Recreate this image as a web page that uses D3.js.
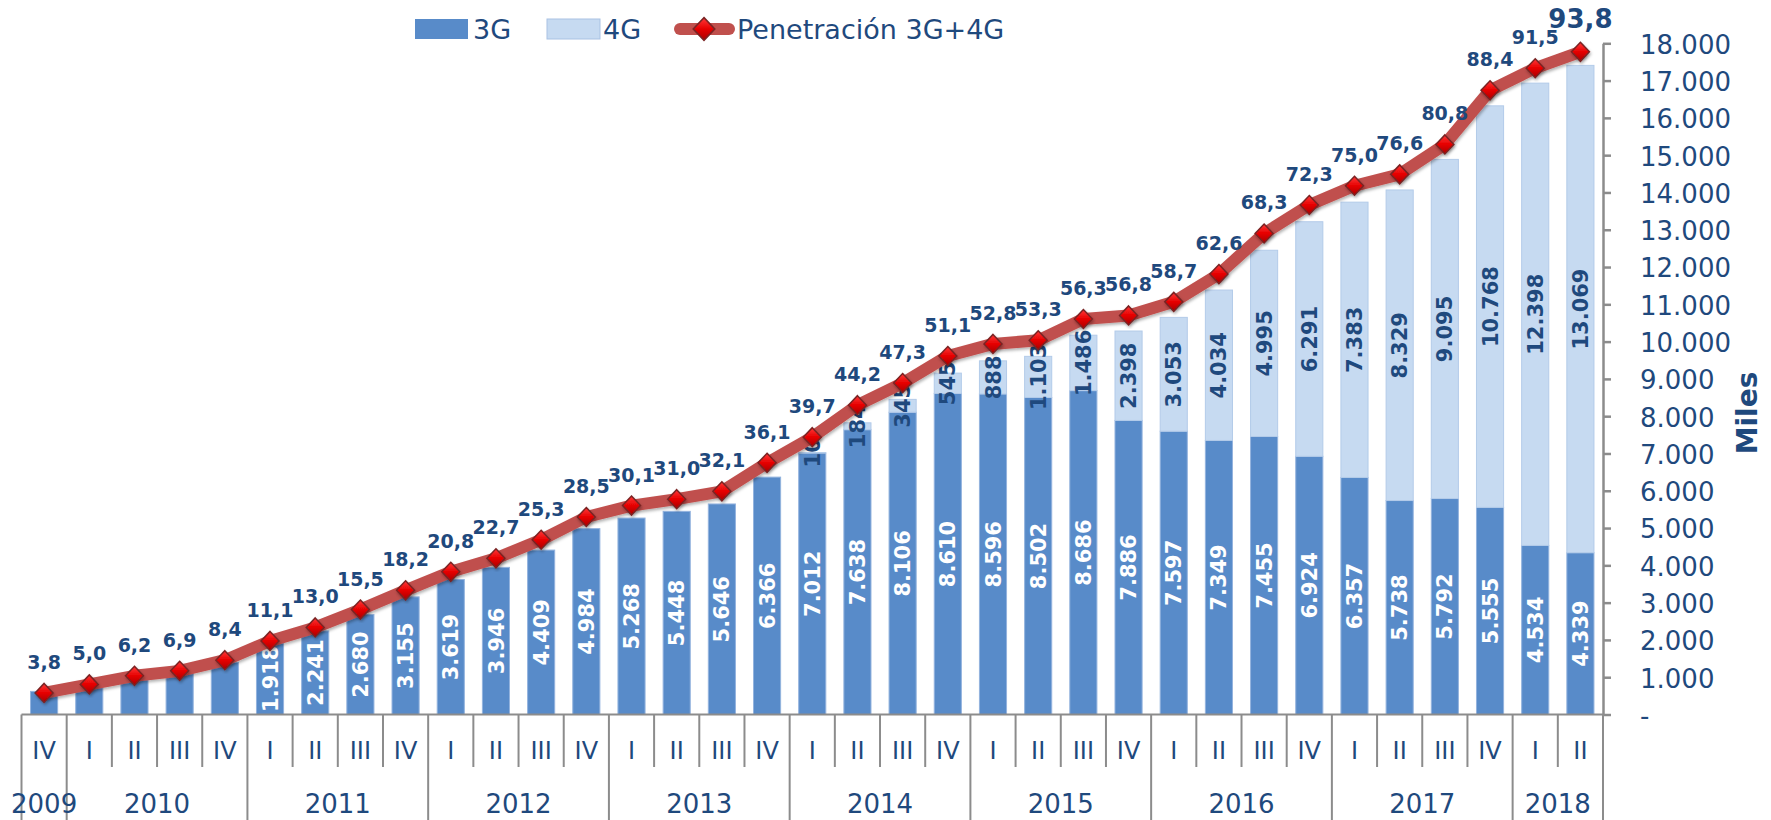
<!DOCTYPE html>
<html><head><meta charset="utf-8">
<script src="https://cdn.jsdelivr.net/npm/d3@7"></script>
<style>
body{margin:0;background:#fff;}
text{font-family:"DejaVu Sans",Verdana,sans-serif;}
</style>
</head><body>
<svg id="c" width="1771" height="820"></svg>
<script>
// ---------- DATA ----------
const years = ["2009",
  "2010","2010","2010","2010",
  "2011","2011","2011","2011",
  "2012","2012","2012","2012",
  "2013","2013","2013","2013",
  "2014","2014","2014","2014",
  "2015","2015","2015","2015",
  "2016","2016","2016","2016",
  "2017","2017","2017","2017",
  "2018","2018"];
const quarters = ["IV",
  "I","II","III","IV", "I","II","III","IV", "I","II","III","IV",
  "I","II","III","IV", "I","II","III","IV", "I","II","III","IV",
  "I","II","III","IV", "I","II","III","IV", "I","II"];
const g3 = [620, 800, 990, 1110, 1400,
  1918, 2241, 2680, 3155,
  3619, 3946, 4409, 4984,
  5268, 5448, 5646, 6366,
  7012, 7638, 8106, 8610,
  8596, 8502, 8686, 7886,
  7597, 7349, 7455, 6924,
  6357, 5738, 5792, 5555,
  4534, 4339];
const g4 = [0, 0, 0, 0, 0,
  0, 0, 0, 0,
  0, 0, 0, 0,
  0, 0, 0, 0,
  10, 184, 345, 545,
  888, 1103, 1486, 2398,
  3053, 4034, 4995, 6291,
  7383, 8329, 9095, 10768,
  12398, 13069];
const penetration = [3.8,
  5.0, 6.2, 6.9, 8.4,
  11.1, 13.0, 15.5, 18.2,
  20.8, 22.7, 25.3, 28.5,
  30.1, 31.0, 32.1, 36.1,
  39.7, 44.2, 47.3, 51.1,
  52.8, 53.3, 56.3, 56.8,
  58.7, 62.6, 68.3, 72.3,
  75.0, 76.6, 80.8, 88.4,
  91.5, 93.8];
const yTicks = d3.range(0, 18001, 1000);
const legendLabels = ["3G", "4G", "Penetración 3G+4G"];
const axisTitle = "Miles";

// ---------- SETUP ----------
const svg = d3.select("#c");
const txtBlue = "#1F497D";
const c3G = "#588BC9", c4G = "#C6DAF1", cLine = "#C0504D", axisGray = "#8C8C8C";
const loc = d3.formatLocale({decimal: ",", thousands: ".", grouping: [3], currency: ["", "€"]});
const fInt = loc.format(",d"), f1 = loc.format(",.1f");

const cats = years.map((yy, i) => yy + " " + quarters[i]);
const rows = cats.map((c, i) => ({c, year: years[i], q: quarters[i], g3: g3[i], g4: g4[i], p: penetration[i]}));

const x = d3.scaleBand().domain(cats).range([21.5, 1603]).paddingInner(0.4).paddingOuter(0.2);
const bw = x.bandwidth();
const y = d3.scaleLinear().domain([0, 18000]).range([714.5, 43.3]);
const yP = d3.scaleLinear().domain([0, 95]).range([720, 43.3]);
const y0 = y(0);

// defs
const defs = svg.append("defs");
const grad = defs.append("linearGradient").attr("id", "mk").attr("x1", 0).attr("y1", 0).attr("x2", 0).attr("y2", 1);
grad.append("stop").attr("offset", "0%").attr("stop-color", "#ff3a3a");
grad.append("stop").attr("offset", "50%").attr("stop-color", "#e60000");
grad.append("stop").attr("offset", "100%").attr("stop-color", "#a80000");
const sh = defs.append("filter").attr("id", "sh").attr("x", "-20%").attr("y", "-20%").attr("width", "140%").attr("height", "140%");
sh.append("feDropShadow").attr("dx", 1).attr("dy", 2).attr("stdDeviation", 1.5).attr("flood-color", "#000").attr("flood-opacity", 0.3);

// ---------- BARS ----------
const gBars = svg.append("g");
gBars.selectAll("rect.b3").data(rows).join("rect").attr("class", "b3")
  .attr("x", d => x(d.c)).attr("width", bw)
  .attr("y", d => y(d.g3)).attr("height", d => y0 - y(d.g3))
  .attr("fill", c3G).attr("stroke", "#93B3DE").attr("stroke-width", 1);
gBars.selectAll("rect.b4").data(rows.filter(d => d.g4 > 0)).join("rect").attr("class", "b4")
  .attr("x", d => x(d.c)).attr("width", bw)
  .attr("y", d => y(d.g3 + d.g4)).attr("height", d => y(d.g3) - y(d.g3 + d.g4))
  .attr("fill", c4G).attr("stroke", "#B3CBE9").attr("stroke-width", 1);

// bar labels
const gBL = svg.append("g").attr("font-weight", "bold").attr("font-size", 21).attr("text-anchor", "middle");
gBL.selectAll("text.l3").data(rows.filter(d => y0 - y(d.g3) > 60)).join("text").attr("class", "l3")
  .attr("transform", d => `translate(${x(d.c) + bw / 2},${(y0 + y(d.g3)) / 2}) rotate(-90)`)
  .attr("dy", "0.36em").attr("fill", "#fff").text(d => fInt(d.g3));
gBL.selectAll("text.l4").data(rows.filter(d => d.g4 > 0)).join("text").attr("class", "l4")
  .attr("transform", d => `translate(${x(d.c) + bw / 2},${(y(d.g3) + y(d.g3 + d.g4)) / 2}) rotate(-90)`)
  .attr("dy", "0.36em").attr("fill", txtBlue).text(d => fInt(d.g4));

// ---------- X AXIS (multi-level) ----------
const gX = svg.append("g").attr("stroke", axisGray).attr("stroke-width", 2);
gX.append("line").attr("x1", x.range()[0]).attr("x2", x.range()[1]).attr("y1", y0).attr("y2", y0);
rows.forEach((d, i) => {
  const bx = x(d.c) - x.step() * x.paddingInner() / 2;
  const yearStart = i === 0 || rows[i - 1].year !== d.year;
  gX.append("line").attr("x1", bx).attr("x2", bx).attr("y1", y0).attr("y2", yearStart ? 820 : 767);
});
gX.append("line").attr("x1", 1603).attr("x2", 1603).attr("y1", y0).attr("y2", 820);

svg.append("g").attr("fill", txtBlue).attr("font-size", 24).attr("text-anchor", "middle")
  .selectAll("text").data(rows).join("text")
  .attr("x", d => x(d.c) + bw / 2).attr("y", 759).text(d => d.q);

const yearGroups = d3.groups(rows, d => d.year);
svg.append("g").attr("fill", txtBlue).attr("font-size", 26).attr("text-anchor", "middle")
  .selectAll("text").data(yearGroups).join("text")
  .attr("x", g => {
    const a = x(g[1][0].c) - x.step() * 0.2, b = x(g[1][g[1].length - 1].c) + bw + x.step() * 0.2;
    return (a + b) / 2;
  })
  .attr("y", 813).text(g => g[0]);

// ---------- Y AXIS ----------
const gY = svg.append("g").attr("transform", "translate(1603,0)")
  .call(d3.axisRight(y).tickValues(yTicks).tickSize(8).tickSizeOuter(0).tickPadding(29)
    .tickFormat(d => d === 0 ? "-" : fInt(d)));
gY.select(".domain").attr("stroke", axisGray).attr("stroke-width", 2.5);
gY.selectAll(".tick line").attr("stroke", axisGray).attr("stroke-width", 2.5);
gY.selectAll(".tick text").attr("fill", txtBlue).attr("font-size", 26)
  .attr("font-family", "'DejaVu Sans',Verdana,sans-serif").attr("dy", "0.38em");

svg.append("text").attr("transform", "translate(1747,413) rotate(-90)")
  .attr("text-anchor", "middle").attr("dy", "0.36em")
  .attr("font-weight", "bold").attr("font-size", 28).attr("fill", txtBlue).text(axisTitle);

// ---------- LINE ----------
const line = d3.line().x(d => x(d.c) + bw / 2).y(d => yP(d.p));
svg.append("path").datum(rows).attr("d", line).attr("fill", "none")
  .attr("stroke", cLine).attr("stroke-width", 12).attr("stroke-linejoin", "round").attr("stroke-linecap", "round")
  .attr("filter", "url(#sh)");

const diamond = "M0,-9.5L9,0L0,9.5L-9,0Z";
svg.append("g").selectAll("path").data(rows).join("path")
  .attr("transform", d => `translate(${x(d.c) + bw / 2},${yP(d.p)})`)
  .attr("d", diamond).attr("fill", "url(#mk)").attr("stroke", "#7A2424").attr("stroke-width", 1.5)
  .attr("filter", "url(#sh)");

svg.append("g").attr("fill", txtBlue).attr("font-weight", "bold").attr("text-anchor", "middle")
  .selectAll("text").data(rows).join("text")
  .attr("x", d => x(d.c) + bw / 2).attr("y", d => yP(d.p) - 24)
  .attr("font-size", (d, i) => i === rows.length - 1 ? 26 : 19)
  .text(d => f1(d.p));

// ---------- LEGEND ----------
const lg = svg.append("g").attr("fill", txtBlue).attr("font-size", 27);
lg.append("rect").attr("x", 415).attr("y", 19).attr("width", 53).attr("height", 20).attr("fill", c3G);
lg.append("text").attr("x", 473).attr("y", 39).text(legendLabels[0]);
lg.append("rect").attr("x", 547).attr("y", 19).attr("width", 53).attr("height", 20).attr("fill", c4G)
  .attr("stroke", "#A9C2E3").attr("stroke-width", 1);
lg.append("text").attr("x", 603).attr("y", 39).text(legendLabels[1]);
lg.append("line").attr("x1", 680).attr("x2", 729).attr("y1", 29).attr("y2", 29)
  .attr("stroke", cLine).attr("stroke-width", 12).attr("stroke-linecap", "round");
lg.append("path").attr("transform", "translate(704,29) scale(1.2)").attr("d", diamond)
  .attr("fill", "url(#mk)").attr("stroke", "#7A2424").attr("stroke-width", 1.3);
lg.append("text").attr("x", 737).attr("y", 39).text(legendLabels[2]);
</script>
</body></html>
